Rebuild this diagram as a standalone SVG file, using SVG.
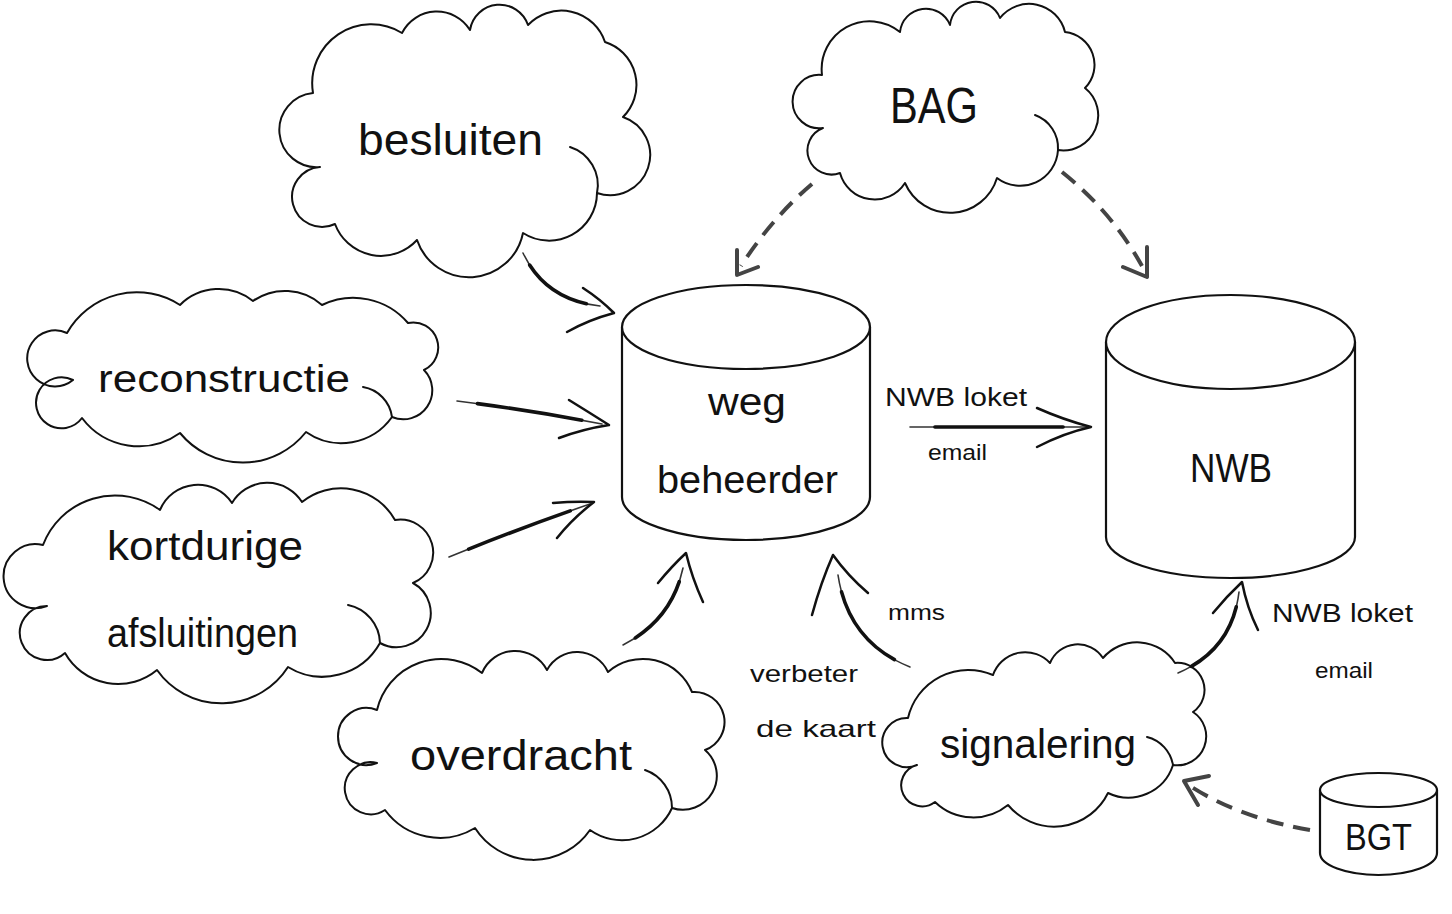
<svg xmlns="http://www.w3.org/2000/svg" xmlns:xlink="http://www.w3.org/1999/xlink" width="1452" height="914" viewBox="0 0 1452 914">
<style>
.cloud{fill:#fff;stroke:#111;stroke-width:2;stroke-linejoin:round}
.tail{fill:none;stroke:#111;stroke-width:2;stroke-linecap:round}
.cyl{fill:#fff;stroke:#111;stroke-width:2.2}
.lbl{font-family:"Liberation Sans",Arial,sans-serif;fill:#111}
.thin{fill:none;stroke:#333;stroke-width:1.6;stroke-linecap:round}
.thick{fill:none;stroke:#111;stroke-width:3.6;stroke-linecap:round;stroke-dasharray:72 28;stroke-dashoffset:-14}
.head{fill:none;stroke:#111;stroke-width:2.5;stroke-linecap:round;stroke-linejoin:round}
.dash{fill:none;stroke:#444;stroke-width:4;stroke-dasharray:17 10}
.dhead{fill:none;stroke:#444;stroke-width:4;stroke-linecap:round;stroke-linejoin:round}
</style>
<defs>
<path id="sa" pathLength="100" d="M523,253 Q545,300 600,306"/>
<path id="sb" pathLength="100" d="M457,401 Q530,410 602,424"/>
<path id="sc" pathLength="100" d="M449,557 Q520,528 590,504"/>
<path id="sd" pathLength="100" d="M623,645 Q672,620 683,568"/>
<path id="se" pathLength="100" d="M910,667 Q848,642 838,575"/>
<path id="sf" pathLength="100" d="M910,427 L1088,427"/>
<path id="sg" pathLength="100" d="M1178,673 Q1232,650 1239,592"/>
</defs>
<rect width="1452" height="914" fill="#fff"/>

<g id="besluiten">
<path class="cloud" d="M313,93 A59,59 0 0 1 402,33 A39,39 0 0 1 470,30 A30,30 0 0 1 528,25 A46,46 0 0 1 605,42 A45,45 0 0 1 623,117 A40,40 0 0 1 597,193 A48,48 0 0 1 523,233 A55,55 0 0 1 417,240 A49,49 0 0 1 335,224 A30,30 0 1 1 320,167 A37,37 0 0 1 313,93 Z"/>
<path class="tail" d="M570,147 A40,40 0 0 1 597,193"/>
<text class="lbl" x="358" y="155" font-size="44" textLength="185" lengthAdjust="spacingAndGlyphs">besluiten</text>
</g>

<g id="bag">
<path class="cloud" d="M822,75 A48,48 0 0 1 900,32 A26,26 0 0 1 950,25 A26,26 0 0 1 1000,18 A37,37 0 0 1 1065,32 A33,33 0 0 1 1085,88 A35,35 0 0 1 1058,150 A38,38 0 0 1 997,178 A49,49 0 0 1 905,183 A36,36 0 0 1 840,173 A24,24 0 0 1 823,128 A26.7,26.7 0 1 1 822,75 Z"/>
<path class="tail" d="M1035,115 A35,35 0 0 1 1058,150"/>
<text class="lbl" x="890" y="123" font-size="50" textLength="88" lengthAdjust="spacingAndGlyphs">BAG</text>
</g>

<g id="reconstructie">
<path class="cloud" d="M67,333 A80,80 0 0 1 180,305 A55,55 0 0 1 253,301 A56,56 0 0 1 322,305 A72,72 0 0 1 408,323 A25,25 0 0 1 424,370 A29,29 0 0 1 392,417 A62,62 0 0 1 306,432 A81,81 0 0 1 180,433 A71,71 0 0 1 82,418 A25.5,25.5 0 1 1 73,380 A28,28 0 1 1 67,333 Z"/>
<path class="tail" d="M363,387 A35,35 0 0 1 392,417"/>
<text class="lbl" x="98" y="392" font-size="38" textLength="252" lengthAdjust="spacingAndGlyphs">reconstructie</text>
</g>

<g id="kortdurige">
<path class="cloud" d="M43,545 A77,77 0 0 1 160,510 A41,41 0 0 1 232,503 A41,41 0 0 1 302,502 A62,62 0 0 1 395,520 A33,33 0 0 1 413,583 A34,34 0 0 1 380,643 A66,66 0 0 1 288,667 A79,79 0 0 1 157,670 A61,61 0 0 1 65,653 A27,27 0 1 1 47,606 A32,32 0 1 1 43,545 Z"/>
<path class="tail" d="M348,605 A40,40 0 0 1 380,643"/>
<text class="lbl" x="107" y="560" font-size="40" textLength="196" lengthAdjust="spacingAndGlyphs">kortdurige</text>
<text class="lbl" x="107" y="647" font-size="40" textLength="191" lengthAdjust="spacingAndGlyphs">afsluitingen</text>
</g>

<g id="overdracht">
<path class="cloud" d="M377,710 A66,66 0 0 1 482,673 A36,36 0 0 1 547,670 A34,34 0 0 1 608,672 A53,53 0 0 1 692,692 A30,30 0 0 1 705,750 A34,34 0 0 1 672,808 A55,55 0 0 1 590,830 A69,69 0 0 1 475,828 A68,68 0 0 1 385,810 A26,26 0 1 1 377,763 A28.5,28.5 0 1 1 377,710 Z"/>
<path class="tail" d="M645,770 A40,40 0 0 1 672,808"/>
<text class="lbl" x="410" y="770" font-size="42" textLength="222" lengthAdjust="spacingAndGlyphs">overdracht</text>
</g>

<g id="signalering">
<path class="cloud" d="M908,718 A62,62 0 0 1 993,675 A34,34 0 0 1 1050,663 A30,30 0 0 1 1103,658 A45,45 0 0 1 1175,663 A27,27 0 0 1 1193,712 A29,29 0 0 1 1173,765 A47,47 0 0 1 1108,793 A60,60 0 0 1 1008,805 A55,55 0 0 1 935,802 A21,21 0 1 1 917,765 A24.6,24.6 0 1 1 908,718 Z"/>
<path class="tail" d="M1147,737 A35,35 0 0 1 1173,765"/>
<text class="lbl" x="940" y="758" font-size="40" textLength="196" lengthAdjust="spacingAndGlyphs">signalering</text>
</g>

<g id="wegbeheerder">
<path class="cyl" d="M622,327 L622,497 A124,43 0 0 0 870,497 L870,327"/>
<ellipse class="cyl" cx="746" cy="327" rx="124" ry="42"/>
<text class="lbl" x="708" y="415" font-size="38" textLength="78" lengthAdjust="spacingAndGlyphs">weg</text>
<text class="lbl" x="657" y="493" font-size="38" textLength="181" lengthAdjust="spacingAndGlyphs">beheerder</text>
</g>

<g id="nwb">
<path class="cyl" d="M1106,342 L1106,537 A124.5,41 0 0 0 1355,537 L1355,342"/>
<ellipse class="cyl" cx="1230.5" cy="342" rx="124.5" ry="47"/>
<text class="lbl" x="1190" y="482" font-size="40" textLength="82" lengthAdjust="spacingAndGlyphs">NWB</text>
</g>

<g id="bgt">
<path class="cyl" d="M1320,790 L1320,853 A58.5,22 0 0 0 1437,853 L1437,790"/>
<ellipse class="cyl" cx="1378.5" cy="790" rx="58.5" ry="17"/>
<text class="lbl" x="1345" y="850" font-size="36" textLength="67" lengthAdjust="spacingAndGlyphs">BGT</text>
</g>

<g id="connectors">
<use xlink:href="#sa" class="thin"/><use xlink:href="#sa" class="thick"/>
<path class="head" d="M583,288 Q600,299 614,313 Q588,320 567,332"/>
<use xlink:href="#sb" class="thin"/><use xlink:href="#sb" class="thick"/>
<path class="head" d="M569,400 Q590,413 609,425 Q583,429 559,438"/>
<use xlink:href="#sc" class="thin"/><use xlink:href="#sc" class="thick"/>
<path class="head" d="M553,503 Q575,501 594,502 Q573,518 557,538"/>
<use xlink:href="#sd" class="thin"/><use xlink:href="#sd" class="thick"/>
<path class="head" d="M658,583 Q672,566 686,553 Q692,578 703,602"/>
<use xlink:href="#se" class="thin"/><use xlink:href="#se" class="thick"/>
<path class="head" d="M812,615 Q821,582 833,555 Q848,576 868,593"/>
<use xlink:href="#sf" class="thin"/><use xlink:href="#sf" class="thick"/>
<path class="head" d="M1037,408 Q1064,420 1091,427 Q1064,433 1037,447"/>
<use xlink:href="#sg" class="thin"/><use xlink:href="#sg" class="thick"/>
<path class="head" d="M1213,613 Q1227,596 1242,582 Q1247,608 1258,630"/>
<path class="dash" d="M812,184 Q772,218 741,266"/>
<path class="dhead" d="M737,250 L737,275 L758,267"/>
<path class="dash" d="M1062,172 Q1112,212 1142,266"/>
<path class="dhead" d="M1123,267 L1147,277 L1147,247"/>
<path class="dash" d="M1310,830 Q1240,818 1190,786"/>
<path class="dhead" d="M1209,776 L1184,781 L1198,805"/>
</g>

<g id="edge-labels">
<text class="lbl" x="885" y="406" font-size="26" textLength="142" lengthAdjust="spacingAndGlyphs">NWB loket</text>
<text class="lbl" x="928" y="460" font-size="22" textLength="59" lengthAdjust="spacingAndGlyphs">email</text>
<text class="lbl" x="888" y="620" font-size="22" textLength="57" lengthAdjust="spacingAndGlyphs">mms</text>
<text class="lbl" x="750" y="682" font-size="24" textLength="108" lengthAdjust="spacingAndGlyphs">verbeter</text>
<text class="lbl" x="756" y="737" font-size="24" textLength="120" lengthAdjust="spacingAndGlyphs">de kaart</text>
<text class="lbl" x="1272" y="622" font-size="26" textLength="141" lengthAdjust="spacingAndGlyphs">NWB loket</text>
<text class="lbl" x="1315" y="678" font-size="22" textLength="58" lengthAdjust="spacingAndGlyphs">email</text>
</g>
</svg>
